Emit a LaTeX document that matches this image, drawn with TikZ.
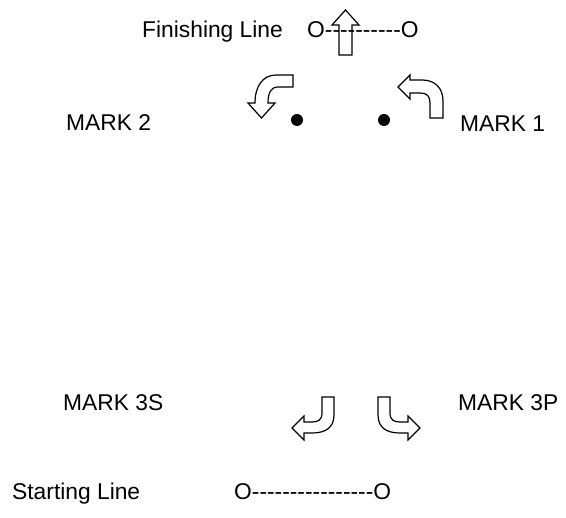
\documentclass[tikz,border=0pt]{standalone}
\usepackage{fontspec}
\setmainfont{Liberation Sans}
\begin{document}
\begin{tikzpicture}[x=1pt,y=-1pt,
  lbl/.style={anchor=base west,inner sep=0pt,font=\fontsize{22.8}{27}\selectfont},
  blk/.style={draw=black,line width=1.2pt,line join=miter},
  dot/.style={circle,fill=black,inner sep=0pt,minimum size=12pt}]
\useasboundingbox (0,0) rectangle (566,518);
% texts
\node[lbl] (fin) at (142,38) {Finishing Line};
\node[lbl] (finline) at (307,38) {O-{}-{}-{}-{}-{}-{}-{}-{}-{}-O};
\node[lbl] (m2) at (66,131) {MARK 2};
\node[lbl] (m1) at (460,132) {MARK 1};
\node[lbl] (m3s) at (63,411) {MARK 3S};
\node[lbl] (m3p) at (458,411) {MARK 3P};
\node[lbl] (start) at (12,500) {Starting Line};
\node[lbl] (startline) at (234,500) {O-{}-{}-{}-{}-{}-{}-{}-{}-{}-{}-{}-{}-{}-{}-{}-O};
% dots
\node[dot] (d2) at (297,120) {};
\node[dot] (d1) at (384,120) {};
% up arrow (finishing)
\draw[blk] (339,55) -- (339,25) -- (332,25) -- (345.5,10) -- (359,25) -- (352,25) -- (352,55) -- cycle;
% MARK 2 arrow
\draw[blk] (293,75) -- (276,75) .. controls (263,75) and (255,86) .. (255,103)
  -- (248,103) -- (261.5,118) -- (275,103) -- (268,103)
  .. controls (268,93) and (271,87) .. (278,87) -- (293,87) -- cycle;
% MARK 1 arrow
\draw[blk] (443,118) -- (443,101) .. controls (443,88) and (435,80) .. (422,80)
  -- (410,80) -- (410,75) -- (398,87) -- (410,99) -- (410,93) -- (420,93)
  .. controls (427,93) and (430,96) .. (430,103) -- (430,118) -- cycle;
% MARK 3S arrow
\draw[blk] (334,397) -- (334,415) .. controls (334,428) and (325,433) .. (312,433)
  -- (304,433) -- (304,440) -- (292,428) -- (304,416) -- (304,422) -- (312,422)
  .. controls (318,422) and (322,420) .. (322,413) -- (322,397) -- cycle;
% MARK 3P arrow (mirror)
\draw[blk] (378,397) -- (378,415) .. controls (378,428) and (387,433) .. (400,433)
  -- (408,433) -- (408,440) -- (420,428) -- (408,416) -- (408,422) -- (400,422)
  .. controls (394,422) and (390,420) .. (390,413) -- (390,397) -- cycle;
\end{tikzpicture}
\end{document}
